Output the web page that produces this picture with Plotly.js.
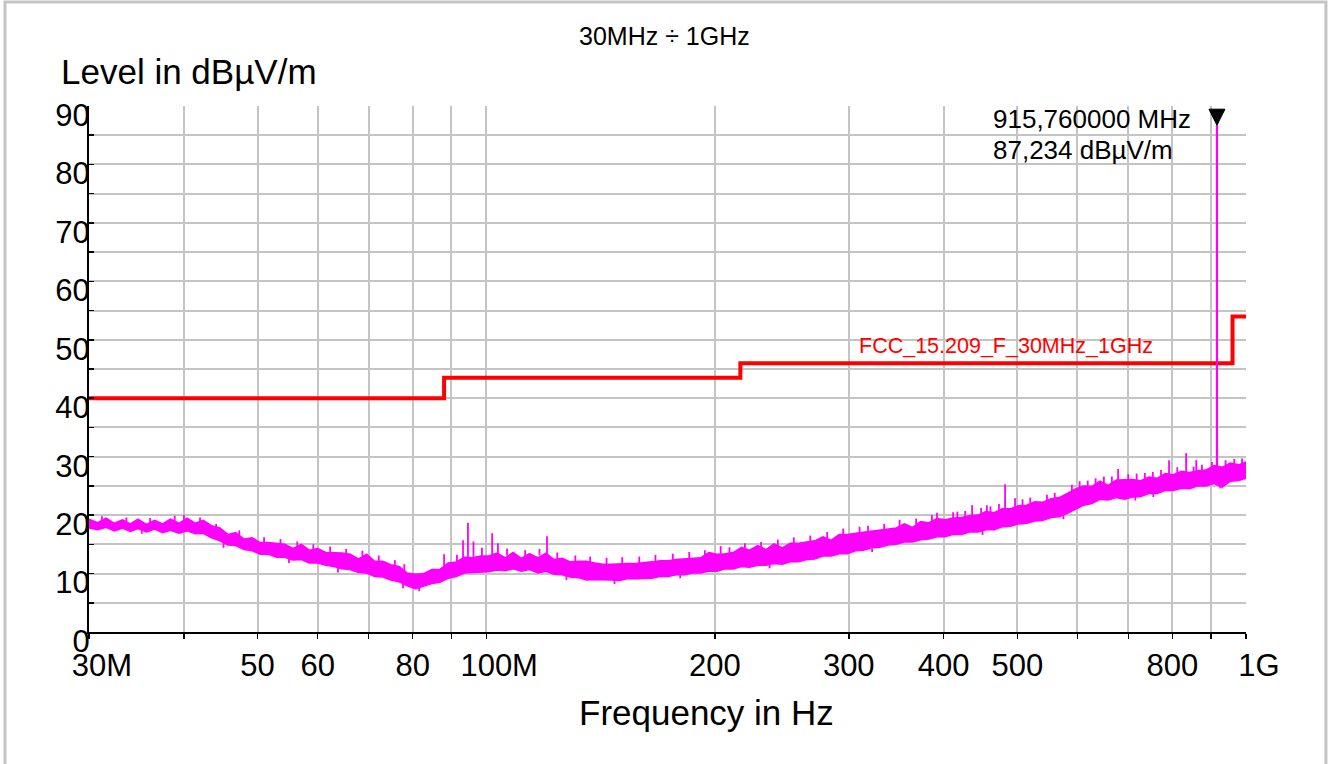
<!DOCTYPE html>
<html>
<head>
<meta charset="utf-8">
<script src="https://cdn.plot.ly/plotly-3.0.1.min.js"></script>
<style>html,body{margin:0;padding:0;background:#fff;}</style>
</head>
<body>
<div id="chart" style="width:1333px;height:764px;"></div>
<script>
// ---- data (MHz, dBµV/m) ----
var freqs = [30,30.8,31.6,32.4,33.2,34,34.8,35.7,36.6,37.5,
  38.4,39.4,40.4,41.4,42.4,43.5,44.6,45.7,46.8,48,
  49.2,50.4,51.7,53,54.3,55.7,57.1,58.5,60,61.5,
  63,64.6,66.2,67.9,69.6,71.3,73.1,74.9,76.8,78.7,
  80.7,82.7,84.8,86.9,89.1,91.3,93.6,95.9,98.3,100.8,
  103.3,105.9,108.5,111.2,114,116.9,119.8,122.8,125.9,129,
  132.2,135.5,138.9,142.4,146,149.6,153.4,157.2,161.1,165.1,
  169.3,173.5,177.8,182.3,186.9,191.5,196.3,201.2,206.3,211.4,
  216.7,222.1,227.7,233.4,239.2,245.2,251.3,257.6,264,270.6,
  277.4,284.3,291.4,298.7,306.2,313.8,321.7,329.7,338,346.4,
  355.1,364,373.1,382.4,392,401.8,411.8,422.1,432.7,443.5,
  454.6,466,477.6,489.6,501.8,514.3,527.2,540.4,553.9,567.7,
  581.9,596.5,611.4,626.7,642.3,658.4,674.9,691.8,709.1,726.8,
  745,763.6,782.7,802.3,822.3,842.9,864,885.6,907.7,930.4,953.7,977.5,1000];
var levelMax = [19.3,18.7,19.5,18.6,19.2,18.5,19.3,18.4,19.1,18.5,
  19.3,18.6,19.5,18.6,19.1,18.2,17.8,16.7,17.0,15.9,
  16.1,15.3,15.3,15.1,15.0,14.3,15.0,14.0,14.3,13.6,
  13.6,13.5,13.3,12.5,13.3,12.1,12.1,11.5,11.2,10.1,
  9.9,10.0,10.7,10.7,11.8,12.0,12.8,12.7,13.0,13.0,
  13.5,12.7,13.6,12.6,13.4,12.7,13.5,12.4,12.6,12.0,
  12.1,12.1,11.8,11.6,11.6,11.7,11.7,11.7,11.8,12.0,
  12.2,12.2,12.4,12.5,12.7,12.7,13.6,13.3,13.4,13.6,
  14.5,14.0,14.8,14.1,15.1,14.4,15.2,15.2,15.4,15.6,
  16.3,15.7,16.7,16.7,16.9,17.1,17.3,17.4,17.7,17.8,
  18.5,17.9,18.9,18.7,19.4,19.2,19.5,19.6,19.9,20.0,
  20.6,20.4,21.1,21.1,21.6,21.7,22.3,22.2,22.8,23.0,
  23.7,24.5,25.0,24.9,25.8,25.1,26.0,26.0,26.1,25.9,
  26.5,26.3,27.1,26.9,27.5,27.3,27.6,27.7,28.5,28.2,28.9,28.6,29.1];
var levelMin = [17.8,17.5,17.9,17.3,17.8,17.2,17.7,17.1,17.6,17.0,
  17.4,16.9,17.3,16.8,16.9,16.1,15.6,14.9,14.8,14.1,
  13.9,13.3,13.3,12.8,12.8,12.3,12.4,11.8,11.8,11.4,
  11.2,10.8,10.7,10.2,10.1,9.5,9.4,8.9,8.6,7.9,
  7.4,7.8,8.3,8.5,9.2,9.5,10.1,10.2,10.3,10.3,
  10.6,10.5,10.8,10.4,10.7,10.1,10.4,9.9,9.8,9.4,
  9.3,8.9,9.0,9.0,8.9,8.8,9.1,9.1,9.2,9.2,
  9.5,9.5,9.8,9.8,10.1,10.1,10.4,10.4,10.8,10.8,
  11.2,11.1,11.4,11.4,11.7,11.6,12.0,12.0,12.4,12.5,
  13.0,13.0,13.4,13.4,13.9,14.0,14.4,14.5,14.9,15.0,
  15.4,15.4,15.8,15.9,16.3,16.3,16.7,16.7,17.1,17.1,
  17.5,17.5,18.0,18.1,18.5,18.6,19.0,19.1,19.6,19.7,
  20.3,21.0,21.7,22.0,22.7,22.6,23.0,22.7,23.1,23.2,
  23.7,23.7,24.2,24.2,24.6,24.5,25.0,25.0,25.4,24.8,25.8,25.9,26.3];

// narrow emission spikes and noise grass (freq MHz, from level, to level)
var spikeFreqs = [88.0,91.5,93.2,94.6,96.2,98.7,101.8,103.6,120.2,392,411.6,436,456,473,481.8,496.6,678.6,792,834,860,902,
  31.2,33.6,36.1,38.9,40.0,42.0,44.1,47.3,51.0,53.6,56.4,59.2,62.3,65.4,68.7,72.2,75.8,78.0,
  35.2,45.1,55.0,63.8,77.7,81.6,
  106.5,112.5,117.5,124,131,137,144,151,159,167,176,185,194,203.5,209,219,230,242,254,267,281,295,
  127.5,147.5,180,236,
  310,318,334,350,368,386,417,427,448,461,508,520,547,560,590,604,619,634,650,666,700,718,736,754,773,812,853,875,940,965,988,
  322,450,575,715,755,925];
var spikeBase = [10.8,11.8,12.2,12.4,12.6,12.8,13.0,13.1,13.0,19.0,19.3,19.8,20.4,20.8,21.0,21.3,25.8,27.0,27.4,27.4,28.2,
  18.9,18.9,18.8,19.0,19.2,18.8,17.8,16.5,15.3,15.0,14.7,14.1,13.6,13.3,13.0,12.1,11.4,10.5,
  17.4,15.2,12.5,11.0,8.3,7.7,
  13.1,13.0,13.1,12.5,12.0,11.9,11.6,11.7,11.8,12.1,12.3,12.6,13.1,13.4,13.5,14.2,14.4,14.7,15.2,15.5,16.0,16.7,
  9.6,8.8,9.8,11.5,
  17.0,17.2,17.5,18.1,18.4,19.0,19.5,19.7,20.3,20.5,21.6,22.0,22.5,22.9,24.0,24.7,24.9,25.3,25.4,25.5,26.0,26.0,26.2,26.4,26.7,27.2,27.4,27.6,28.5,28.7,28.9,
  14.3,17.3,20.0,23.1,23.7,25.0];
var spikePeak = [13.3,13.2,15.7,18.7,15.5,14.4,16.9,15.2,16.4,20.4,20.5,21.7,21.7,21.9,25.3,22.9,27.9,29.4,30.6,29.4,29.1,
  19.8,19.6,19.5,19.9,20.0,19.6,18.5,17.4,16.2,15.9,15.5,15.0,14.6,14.2,13.9,13.1,12.3,11.6,
  16.8,14.4,11.8,10.2,7.5,7.0,
  14.3,14.0,14.2,13.6,13.1,12.9,12.7,12.8,12.9,13.2,13.4,13.7,14.0,14.7,14.5,15.2,15.4,15.8,16.2,16.5,17.1,17.7,
  8.9,8.2,9.2,10.9,
  18.0,18.2,18.5,19.2,19.4,20.0,20.6,20.7,21.2,21.5,22.7,23.0,23.5,23.8,25.2,25.8,25.9,26.3,26.6,26.6,27.0,27.1,27.2,27.4,27.7,28.2,28.3,28.6,29.4,29.6,29.7,
  13.7,16.6,19.3,22.5,23.1,24.6];

// marker
var markerFreq = 915.76;
var markerBase = 28.0;
var markerLevel = 87.234;

// limit line FCC 15.209
var limitFreqs = [30, 88, 216, 960, 1000];
var limitLevels = [40, 43.5, 46, 54, 54];

// axis ticks
var xTickVals = [30,40,50,60,70,80,90,100,200,300,400,500,600,700,800,900,1000];
var xTickText = ['\u00a0\u00a0\u00a030M','','50','60','','80','','\u00a0\u00a0\u00a0100M','200','300','400','500','','','800','','\u00a0\u00a0\u00a01G'];
var yTickVals = [0,5,10,15,20,25,30,35,40,45,50,55,60,65,70,75,80,85,90];
var yTickText = ['0','','10','','20','','30','','40','','50','','60','','70','','80','','90'];

// ---- build traces ----
var MAG = '#ff00ff';
var spikeX = [], spikeY = [];
for (var i = 0; i < spikeFreqs.length; i++) {
  spikeX.push(spikeFreqs[i], spikeFreqs[i], null);
  spikeY.push(spikeBase[i], spikePeak[i], null);
}

var traces = [
  {x: limitFreqs, y: limitLevels, type: 'scatter', mode: 'lines',
   line: {color: '#ff0000', width: 4, shape: 'hv'}, hoverinfo: 'skip'},
  {x: freqs, y: levelMin, type: 'scatter', mode: 'lines',
   line: {color: MAG, width: 1.5}, hoverinfo: 'skip'},
  {x: freqs, y: levelMax, type: 'scatter', mode: 'lines', fill: 'tonexty', fillcolor: MAG,
   line: {color: MAG, width: 1.5}, hoverinfo: 'skip'},
  {x: spikeX, y: spikeY, type: 'scatter', mode: 'lines', connectgaps: false,
   line: {color: MAG, width: 1.8}, hoverinfo: 'skip'},
  {x: [markerFreq, markerFreq], y: [markerBase, markerLevel], type: 'scatter', mode: 'lines',
   line: {color: MAG, width: 2.2}, hoverinfo: 'skip'}
];

var FONT = 'Liberation Sans, Arial, sans-serif';
var layout = {
  width: 1333, height: 764, autosize: false,
  margin: {l: 89, r: 87, t: 106, b: 132, pad: 0},
  paper_bgcolor: '#ffffff', plot_bgcolor: '#ffffff',
  showlegend: false,
  font: {family: FONT, color: '#000000'},
  xaxis: {
    type: 'log', range: [Math.log10(30), Math.log10(1000)],
    tickmode: 'array', tickvals: xTickVals, ticktext: xTickText,
    tickfont: {size: 31, family: FONT, color: '#000'},
    showgrid: true, gridcolor: '#c4c4c4', gridwidth: 2,
    showline: true, linecolor: '#000', linewidth: 2,
    ticks: 'outside', ticklen: 5, tickwidth: 1.5, tickcolor: '#000',
    zeroline: false, fixedrange: true
  },
  yaxis: {
    range: [0, 90],
    tickmode: 'array', tickvals: yTickVals, ticktext: yTickText,
    tickfont: {size: 31, family: FONT, color: '#000'},
    showgrid: true, gridcolor: '#c4c4c4', gridwidth: 2,
    showline: true, linecolor: '#000', linewidth: 2,
    ticks: 'inside', ticklen: 5, tickwidth: 1.5, tickcolor: '#000',
    ticklabelstandoff: -9, ticklabelshift: 9,
    zeroline: false, fixedrange: true
  },
  annotations: [
    {text: '30MHz ÷ 1GHz', xref: 'paper', yref: 'paper', x: 0.4978, y: 1.1331,
     xanchor: 'center', yanchor: 'middle', showarrow: false, font: {size: 25, family: FONT, color: '#000'}},
    {text: 'Level in dBµV/m', xref: 'paper', yref: 'paper', x: -0.0259, y: 1.066,
     xanchor: 'left', yanchor: 'middle', showarrow: false, font: {size: 35, family: FONT, color: '#000'}},
    {text: 'Frequency in Hz', xref: 'paper', yref: 'paper', x: 0.5341, y: -0.1521,
     xanchor: 'center', yanchor: 'middle', showarrow: false, font: {size: 35, family: FONT, color: '#000'}},
    {text: '915,760000 MHz', xref: 'paper', yref: 'paper', x: 0.7796, y: 0.9753,
     xanchor: 'left', yanchor: 'middle', showarrow: false, font: {size: 26, family: FONT, color: '#000'}},
    {text: '87,234 dBµV/m', xref: 'paper', yref: 'paper', x: 0.7796, y: 0.9163,
     xanchor: 'left', yanchor: 'middle', showarrow: false, font: {size: 26, family: FONT, color: '#000'}},
    {text: 'FCC_15.209_F_30MHz_1GHz', xref: 'paper', yref: 'paper', x: 0.6638, y: 0.5437,
     xanchor: 'left', yanchor: 'middle', showarrow: false, font: {size: 21.5, family: FONT, color: '#ff0000'}}
  ],
  shapes: [
    {type: 'rect', xref: 'paper', yref: 'paper', x0: -0.0726, x1: 1.0691, y0: -0.2624, y1: 1.1977,
     line: {color: '#c4c4c4', width: 3}, fillcolor: 'rgba(0,0,0,0)', layer: 'below'},
    {type: 'path', xref: 'x', yref: 'y', xsizemode: 'pixel', ysizemode: 'pixel',
     xanchor: markerFreq, yanchor: markerLevel,
     path: 'M-8,13 L8,13 L0,-3 Z', fillcolor: '#000', line: {color: '#000', width: 1}, layer: 'above'}
  ]
};

Plotly.newPlot('chart', traces, layout, {staticPlot: true, displayModeBar: false});
</script>
</body>
</html>
